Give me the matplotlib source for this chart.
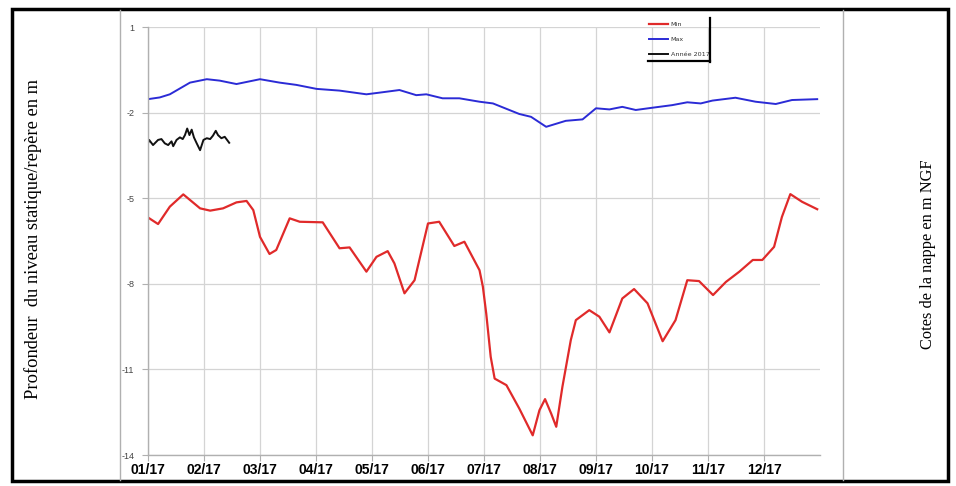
import matplotlib
matplotlib.use("Agg")
import matplotlib.pyplot as plt
from matplotlib.lines import Line2D
from matplotlib.patches import Rectangle

# months since 01/17 (0 = start of January)
month_labels = ["01/17", "02/17", "03/17", "04/17", "05/17", "06/17",
                "07/17", "08/17", "09/17", "10/17", "11/17", "12/17"]
y_ticks = [1, -2, -5, -8, -11, -14]

max_x = [0.0, 0.21, 0.39, 0.75, 1.05, 1.28, 1.58, 2.00, 2.35, 2.65, 3.01, 3.42,
         3.90, 4.14, 4.49, 4.79, 4.97, 5.26, 5.56, 5.92, 6.16, 6.63, 6.84, 7.11,
         7.46, 7.76, 8.00, 8.24, 8.47, 8.71, 9.01, 9.36, 9.63, 9.87, 10.08,
         10.49, 10.85, 11.21, 11.50, 11.95]
max_y = [-1.52, -1.46, -1.35, -0.94, -0.82, -0.87, -0.99, -0.82, -0.94, -1.02,
         -1.16, -1.22, -1.35, -1.29, -1.20, -1.38, -1.35, -1.49, -1.49, -1.61,
         -1.67, -2.04, -2.14, -2.49, -2.28, -2.23, -1.84, -1.88, -1.79, -1.90,
         -1.82, -1.73, -1.63, -1.67, -1.57, -1.47, -1.61, -1.69, -1.55, -1.52]

min_x = [0.0, 0.18, 0.39, 0.63, 0.93, 1.11, 1.34, 1.58, 1.76, 1.88, 2.00, 2.17,
         2.29, 2.53, 2.71, 3.12, 3.42, 3.60, 3.90, 4.08, 4.28, 4.40, 4.58, 4.76,
         5.00, 5.20, 5.47, 5.65, 5.92, 5.98, 6.04, 6.12, 6.19, 6.40, 6.63, 6.75,
         6.87, 6.99, 7.09, 7.20, 7.29, 7.40, 7.55, 7.64, 7.88, 8.06, 8.24, 8.47,
         8.68, 8.92, 9.19, 9.42, 9.63, 9.84, 10.09, 10.32, 10.56, 10.80, 10.97,
         11.18, 11.32, 11.47, 11.68, 11.95]
min_y = [-5.67, -5.90, -5.29, -4.86, -5.35, -5.43, -5.35, -5.14, -5.09, -5.41,
         -6.35, -6.95, -6.81, -5.70, -5.82, -5.84, -6.75, -6.72, -7.57, -7.05,
         -6.85, -7.28, -8.33, -7.87, -5.88, -5.82, -6.67, -6.52, -7.52, -8.10,
         -9.04, -10.56, -11.32, -11.55, -12.37, -12.84, -13.31, -12.43, -12.04,
         -12.55, -13.01, -11.61, -9.97, -9.27, -8.92, -9.15, -9.70, -8.51, -8.18,
         -8.68, -10.01, -9.27, -7.87, -7.90, -8.39, -7.93, -7.57, -7.16, -7.16,
         -6.70, -5.65, -4.85, -5.12, -5.38]

year_x = [0.0, 0.02, 0.09, 0.18, 0.24, 0.30, 0.36, 0.42, 0.45, 0.51, 0.57, 0.62,
          0.66, 0.70, 0.74, 0.78, 0.82, 0.87, 0.93, 0.99, 1.05, 1.11, 1.16, 1.21,
          1.25, 1.31, 1.37, 1.45]
year_y = [-3.07, -2.95, -3.13, -2.95, -2.92, -3.07, -3.13, -3.00, -3.17, -2.95,
          -2.86, -2.92, -2.78, -2.55, -2.78, -2.59, -2.86, -3.07, -3.31, -2.95,
          -2.89, -2.92, -2.80, -2.63, -2.78, -2.89, -2.84, -3.05]

W, H = 956, 486
fig = plt.figure(figsize=(W / 100, H / 100), dpi=100)

# outer frame and the chart image edges
fig.add_artist(Rectangle((12 / W, 1 - 481 / H), 936 / W, 472 / H,
                         transform=fig.transFigure, fill=False,
                         edgecolor="black", linewidth=2.5))
for xp in (120, 843):
    fig.add_artist(Line2D([xp / W, xp / W], [1 - 480 / H, 1 - 10 / H],
                          transform=fig.transFigure, color="#b0b0b0", lw=1))

fig.text(33 / W, 1 - 239 / H, "Profondeur  du niveau statique/repère en m",
         rotation=90, ha="center", va="center", fontsize=13.3,
         family="Liberation Serif")
fig.text(928 / W, 1 - 254 / H, "Cotes de la nappe en m NGF",
         rotation=90, ha="center", va="center", fontsize=11.8,
         family="Liberation Serif")

ax = fig.add_axes([148 / W, 1 - 455 / H, 672 / W, 427.7 / H])
ax.plot(min_x, min_y, color="#e02a2a", lw=1.6, label="Min",
        solid_joinstyle="round")
ax.plot(max_x, max_y, color="#2b2bd6", lw=1.4, label="Max",
        solid_joinstyle="round")
ax.plot(year_x, year_y, color="#111111", lw=1.4, label="Année 2017",
        solid_joinstyle="round")

ax.set_xlim(0, 12)
ax.set_ylim(-14, 1)
ax.set_xticks(range(12))
ax.set_xticklabels(month_labels, fontsize=10, fontweight="bold",
                   family="Liberation Sans")
ax.set_yticks(y_ticks)
ax.set_yticklabels([str(v) for v in y_ticks], fontsize=6.5, color="#444444",
                   family="Liberation Sans")
ax.tick_params(axis="both", direction="out", length=4, color="#b0b0b0")
ax.tick_params(axis="x", pad=2)
ax.tick_params(axis="y", pad=6)
ax.grid(True, color="#d4d4d4", lw=0.9)
for s in ("top", "right"):
    ax.spines[s].set_visible(False)
for s in ("left", "bottom"):
    ax.spines[s].set_color("#b0b0b0")
    ax.spines[s].set_linewidth(1)

leg = ax.legend(loc="upper left", bbox_to_anchor=(649 / W, 1 - 22 / H),
                bbox_transform=fig.transFigure, frameon=False, fontsize=4.6,
                borderpad=0, borderaxespad=0, labelspacing=1.45,
                handlelength=3.0, handletextpad=0.4)
for t in leg.get_texts():
    t.set_color("#333333")
# shadow-like frame of the legend
fig.add_artist(Line2D([710 / W, 710 / W], [1 - 62 / H, 1 - 18 / H],
                      transform=fig.transFigure, color="black", lw=1.6))
fig.add_artist(Line2D([648 / W, 710 / W], [1 - 61 / H, 1 - 61 / H],
                      transform=fig.transFigure, color="black", lw=1.6))

fig.savefig("out.png", dpi=100)
